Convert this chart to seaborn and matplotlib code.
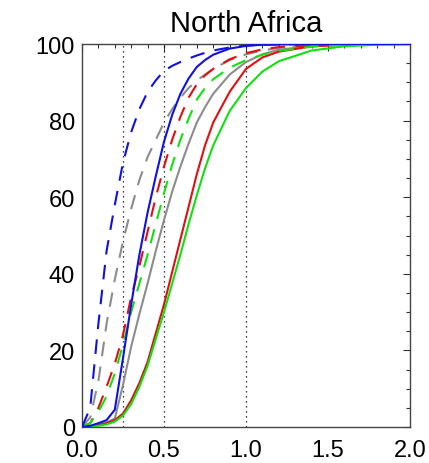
import matplotlib
matplotlib.use("Agg")
import matplotlib.pyplot as plt
import pandas as pd
import seaborn as sns
from matplotlib.ticker import MultipleLocator

# Cumulative percentage curves for North Africa
x_values = [0.0, 0.05, 0.1, 0.15, 0.2, 0.25, 0.3, 0.35, 0.4, 0.45, 0.5, 0.55, 0.6,
            0.65, 0.7, 0.75, 0.8, 0.9, 1.0, 1.1, 1.2, 1.4, 1.6, 1.8, 2.0]

grey_solid = [0, 0.2, 0.6, 1.2, 2.2, 11, 21, 29.5, 37.5, 46, 54, 61.5, 68,
              74, 79.5, 83.5, 87, 92, 95.3, 97.3, 98.5, 99.5, 99.8, 100, 100]
red_solid = [0, 0.1, 0.5, 1.0, 1.8, 3.5, 7, 11.5, 17, 24.5, 32, 40.5, 49,
             57.5, 66, 73.5, 79.5, 87.5, 93.5, 96.5, 98, 99.4, 99.8, 100, 100]
green_solid = [0, 0.1, 0.3, 0.7, 1.4, 3, 6, 10.5, 16, 23, 30, 37.5, 45,
               53, 60.5, 67.5, 73.5, 82.5, 88.5, 92.8, 95.5, 98.3, 99.4, 99.8, 100]
blue_solid = [0, 0.3, 1.0, 1.8, 4.5, 18, 32, 45, 56, 65.5, 74.5, 81.5, 87,
              91, 94, 95.8, 97.2, 98.8, 99.5, 99.8, 99.9, 100, 100, 100, 100]

grey_dashed = [0, 2.5, 12, 27, 38.5, 48.5, 57, 64.5, 70.5, 75, 79.5, 83, 86,
               88.5, 90.5, 92, 93.5, 95.8, 97.3, 98.3, 99, 99.6, 99.9, 100, 100]
red_dashed = [0, 1, 5, 10.5, 16.5, 24, 34, 42, 51, 60, 68, 75, 81,
              86, 89.5, 91.8, 93.5, 96, 97.6, 98.6, 99.2, 99.7, 99.9, 100, 100]
green_dashed = [0, 1, 4, 8, 14, 21.5, 30, 37.5, 45, 53, 61, 68.5, 75,
                80.5, 85.5, 88.5, 90.8, 93.8, 95.8, 97.2, 98.2, 99.3, 99.8, 100, 100]
blue_dashed = [0, 5, 27, 46, 58, 69, 77, 83, 87.5, 90.5, 93, 94.3, 95.3,
               96.2, 97, 97.7, 98.3, 99.1, 99.6, 99.8, 99.9, 100, 100, 100, 100]

series = {
    ("grey", "solid"): grey_solid,
    ("red", "solid"): red_solid,
    ("green", "solid"): green_solid,
    ("blue", "solid"): blue_solid,
    ("grey", "dashed"): grey_dashed,
    ("red", "dashed"): red_dashed,
    ("green", "dashed"): green_dashed,
    ("blue", "dashed"): blue_dashed,
}

rows = []
for (group, kind), vals in series.items():
    for xv, yv in zip(x_values, vals):
        rows.append({"x": xv, "pct": yv, "group": group, "kind": kind})
df = pd.DataFrame(rows)

palette = {"grey": "#8c8c8c", "red": "#e01010", "green": "#10e010", "blue": "#1010e0"}
dash_map = {"solid": "", "dashed": (7, 5)}

sns.set_style("white")
plt.rcParams["font.family"] = ["Liberation Sans", "DejaVu Sans"]
plt.rcParams["text.color"] = "black"
plt.rcParams["xtick.labelcolor"] = "black"
plt.rcParams["ytick.labelcolor"] = "black"

fig = plt.figure(figsize=(4.29, 4.64), dpi=100)
ax = fig.add_axes([82 / 429, 36 / 464, 328 / 429, 383 / 464])

for v in (0.25, 0.5, 1.0):
    ax.axvline(v, color="black", lw=0.9, ls=(0, (1, 3)), zorder=1)

sns.lineplot(data=df, x="x", y="pct", hue="group", style="kind",
             palette=palette, dashes=dash_map,
             hue_order=["grey", "red", "green", "blue"],
             style_order=["solid", "dashed"],
             linewidth=1.5, legend=False, ax=ax, zorder=3)

ax.set_xlim(0, 2)
ax.set_ylim(0, 100)
ax.xaxis.set_major_locator(MultipleLocator(0.5))
ax.xaxis.set_minor_locator(MultipleLocator(0.1))
ax.yaxis.set_major_locator(MultipleLocator(20))
ax.yaxis.set_minor_locator(MultipleLocator(5))
ax.set_xticklabels([f"{t:.1f}" for t in ax.get_xticks()])
ax.set_xlabel("")
ax.set_ylabel("")

ax.tick_params(which="both", direction="in", top=True, right=True,
               color="#333333", width=0.8, labelcolor="black")
ax.tick_params(which="major", length=5)
ax.tick_params(which="minor", length=3)
ax.tick_params(axis="x", which="major", labelsize=17, pad=9)
ax.tick_params(axis="y", which="major", labelsize=17, pad=5)

for sp in ax.spines.values():
    sp.set_color("#444444")
    sp.set_linewidth(1.0)

ax.set_title("North Africa", fontsize=21, pad=9, color="black")

fig.savefig("out.png", dpi=100)
